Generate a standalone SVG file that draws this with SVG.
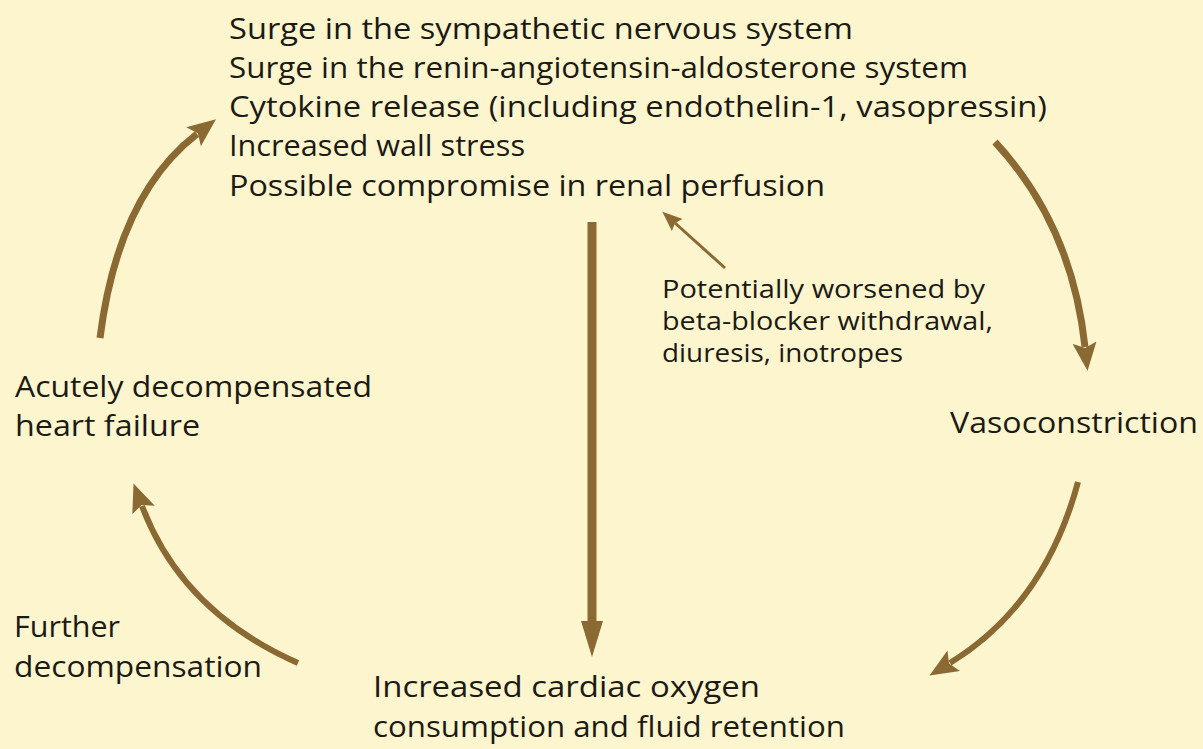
<svg xmlns="http://www.w3.org/2000/svg" width="1203" height="749" viewBox="0 0 1203 749">
<style>
text{font-family:"Open Sans","Noto Sans","DejaVu Sans",sans-serif;fill:#1c1a14}
.m{font-size:30px}
.s{font-size:25px}
.c{fill:none;stroke:#8a6a32;stroke-linecap:butt}
.h{fill:#8a6a32}
</style>
<defs>
<marker id="ah" markerUnits="userSpaceOnUse" markerWidth="30" markerHeight="24" viewBox="0 0 26 22" refX="4" refY="11" orient="auto"><path class="h" d="M0,0 L26,11 L0,22 L5,11 Z"/></marker>
<marker id="av" markerUnits="userSpaceOnUse" markerWidth="36" markerHeight="24" viewBox="0 0 36 22" refX="3" refY="11" orient="auto"><path class="h" d="M0,0 L36,11 L0,22 Z"/></marker>
<marker id="as" markerUnits="userSpaceOnUse" markerWidth="20" markerHeight="16" viewBox="0 0 20 16" refX="3" refY="8" orient="auto"><path class="h" d="M0,0 L20,8 L0,16 L3,8 Z"/></marker>
</defs>
<rect width="1203" height="749" fill="#fdf5cd"/>
<g id="connectors">
<path class="c" stroke-width="7" d="M100,338 Q118,195 197,134" marker-end="url(#ah)"/>
<path class="c" stroke-width="7" d="M995,142 Q1072,225 1085,347" marker-end="url(#ah)"/>
<path class="c" stroke-width="6" d="M1078,482 Q1045,605 950,663" marker-end="url(#ah)"/>
<path class="c" stroke-width="6" d="M298,663 Q182,612 142,506" marker-end="url(#ah)"/>
<path class="c" stroke-width="9" d="M592,222 L592,624" marker-end="url(#av)"/>
<path class="c" stroke-width="3" d="M725,268 L675,223" marker-end="url(#as)"/>
</g>
<g id="node-triggers">
<text class="m" x="229" y="39" textLength="624" lengthAdjust="spacingAndGlyphs">Surge in the sympathetic nervous system</text>
<text class="m" x="229" y="78" textLength="739" lengthAdjust="spacingAndGlyphs">Surge in the renin-angiotensin-aldosterone system</text>
<text class="m" x="229" y="117" textLength="818" lengthAdjust="spacingAndGlyphs">Cytokine release (including endothelin-1, vasopressin)</text>
<text class="m" x="229" y="156" textLength="296" lengthAdjust="spacingAndGlyphs">Increased wall stress</text>
<text class="m" x="229" y="196" textLength="596" lengthAdjust="spacingAndGlyphs">Possible compromise in renal perfusion</text>
</g>
<g id="node-annotation">
<text class="s" x="662" y="298" textLength="323" lengthAdjust="spacingAndGlyphs">Potentially worsened by</text>
<text class="s" x="662" y="330" textLength="331" lengthAdjust="spacingAndGlyphs">beta-blocker withdrawal,</text>
<text class="s" x="662" y="362" textLength="241" lengthAdjust="spacingAndGlyphs">diuresis, inotropes</text>
</g>
<g id="node-vasoconstriction">
<text class="m" x="950" y="433" textLength="248" lengthAdjust="spacingAndGlyphs">Vasoconstriction</text>
</g>
<g id="node-increased">
<text class="m" x="373" y="697" textLength="387" lengthAdjust="spacingAndGlyphs">Increased cardiac oxygen</text>
<text class="m" x="373" y="737" textLength="472" lengthAdjust="spacingAndGlyphs">consumption and fluid retention</text>
</g>
<g id="node-further">
<text class="m" x="14" y="637" textLength="106" lengthAdjust="spacingAndGlyphs">Further</text>
<text class="m" x="14" y="677" textLength="248" lengthAdjust="spacingAndGlyphs">decompensation</text>
</g>
<g id="node-adhf">
<text class="m" x="15" y="397" textLength="357" lengthAdjust="spacingAndGlyphs">Acutely decompensated</text>
<text class="m" x="15" y="436" textLength="185" lengthAdjust="spacingAndGlyphs">heart failure</text>
</g>
</svg>
